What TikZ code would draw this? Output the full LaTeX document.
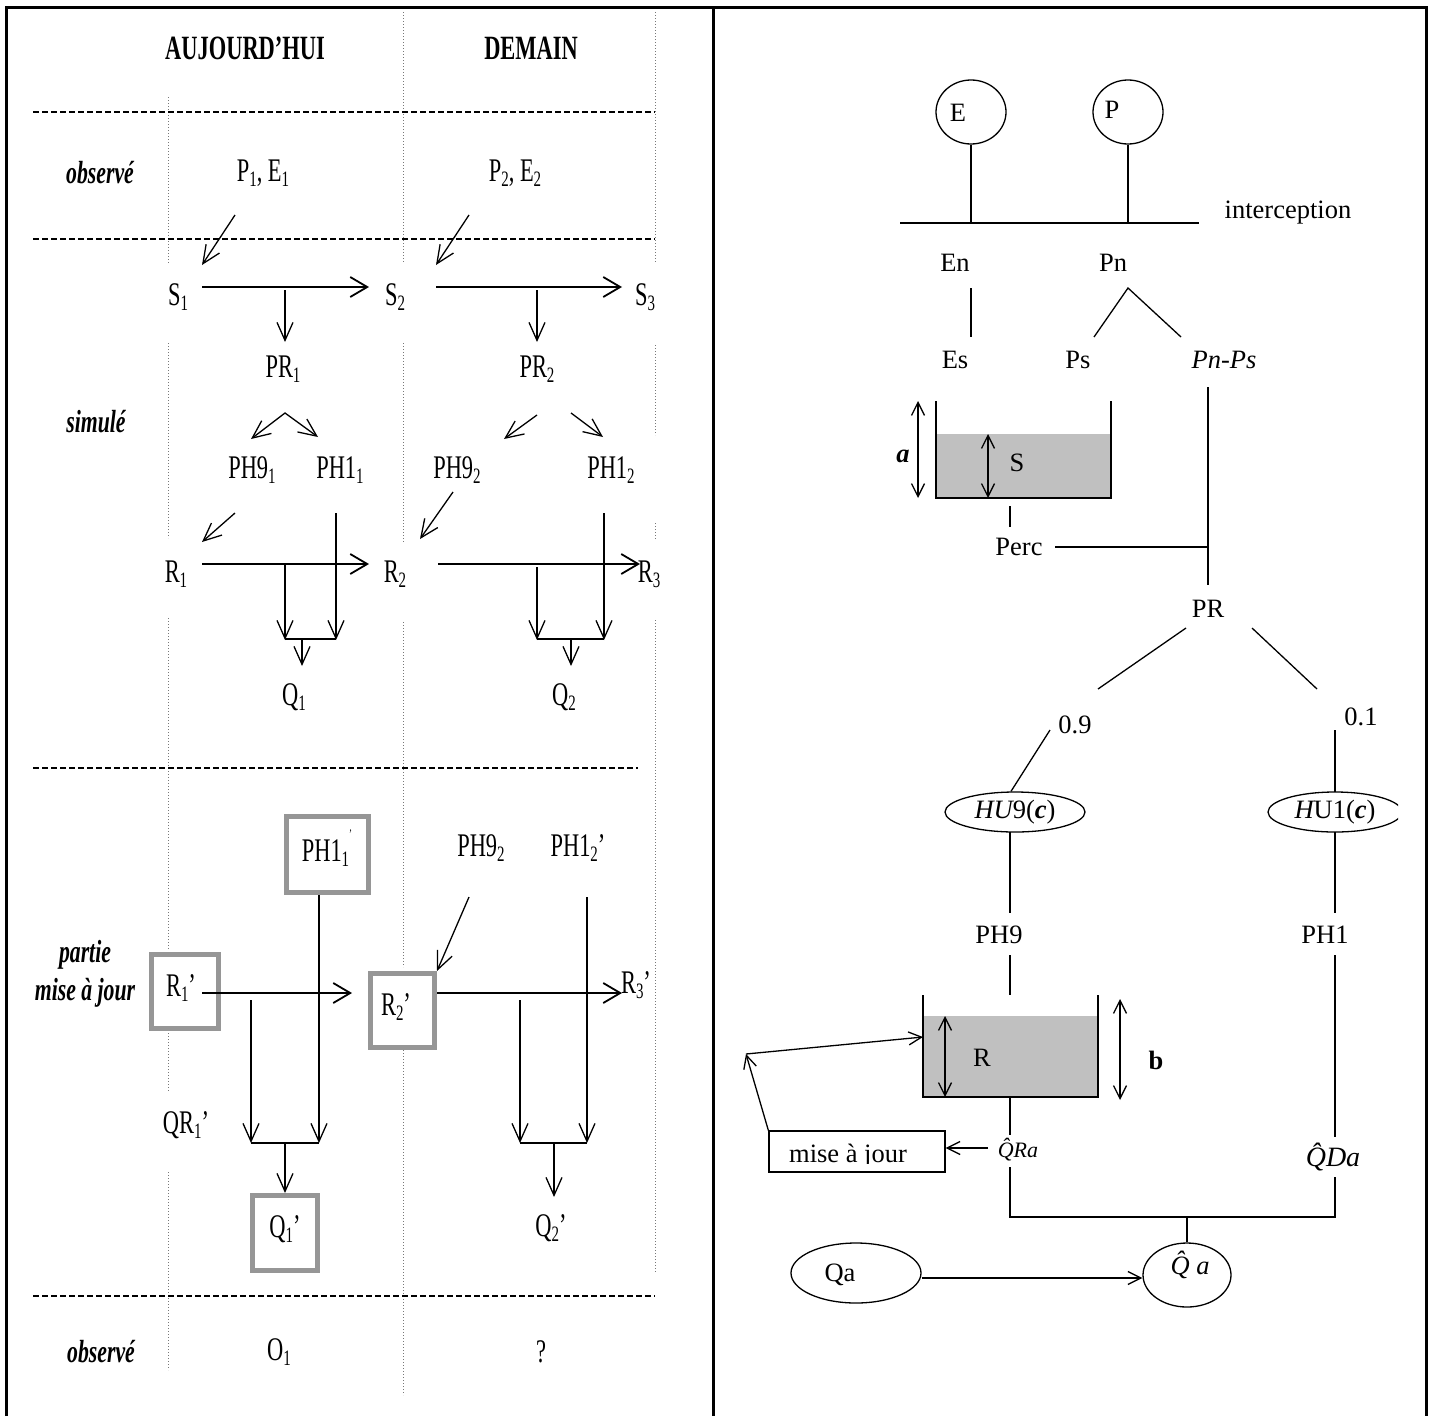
\documentclass[tikz,border=0pt]{standalone}
\usepackage{fontspec}
\setmainfont{Liberation Serif}
\newfontfamily\condfont[FakeStretch=0.68]{Liberation Serif}
\newfontfamily\condhead[FakeStretch=0.66]{Liberation Serif}
\usetikzlibrary{arrows.meta,shapes.geometric}
\definecolor{boxgray}{RGB}{150,150,150}
\definecolor{tankgray}{RGB}{192,192,192}
\definecolor{dotgray}{RGB}{120,120,120}
% lowered index in the condensed font
\newcommand\lsb[1]{\raisebox{-0.35ex}{\fontsize{22}{22}\selectfont #1}}
\newcommand\tinyprime{\raisebox{1.5ex}{\fontsize{13}{13}\selectfont ’}}

\begin{document}
\begin{tikzpicture}[x=1pt,y=-1pt,
  lt/.style={font=\condfont\fontsize{33}{36}\selectfont, inner sep=0pt},
  lhead/.style={font=\condhead\bfseries\fontsize{34}{36}\selectfont, inner sep=0pt},
  rowlab/.style={font=\condfont\bfseries\itshape\fontsize{32}{38}\selectfont, inner sep=0pt, align=center},
  rt/.style={font=\fontsize{26.5}{30}\selectfont, inner sep=0pt},
  conn/.style={line width=1.3pt},
  flow/.style={line width=1.3pt, -{Straight Barb[length=18pt,width=16pt]}},
  mainflow/.style={line width=1.8pt, -{Straight Barb[length=17pt,width=20pt]}},
  sepline/.style={line width=1.4pt, dash pattern=on 6pt off 3pt},
  guide/.style={line width=0.9pt, dotgray, dash pattern=on 1.3pt off 1.7pt},
  gbox/.style={draw=boxgray, line width=5pt, inner sep=0pt},
  frame/.style={line width=3pt},
  rarr/.style={line width=1.3pt, -{Straight Barb[length=13pt,width=13pt]}},
  rdbl/.style={line width=1.3pt, {Straight Barb[length=13pt,width=13pt]}-{Straight Barb[length=13pt,width=13pt]}},
  bubble/.style={draw, line width=1.3pt, ellipse, inner sep=0pt, font=\fontsize{26.5}{30}\selectfont},
]
\useasboundingbox (0,0) rectangle (1434,1416);

% ---------- frame ----------
\draw[frame] (6,1416) -- (6,7) -- (1426,7) -- (1426,1416);
\draw[frame] (713,7) -- (713,1416);

% ================= left panel =================
% column guides
\foreach \a/\b in {97/263, 343/538, 618/950, 1033/1092, 1172/1370}
  \draw[guide] (168,\a) -- (168,\b);
\foreach \a/\b in {12/263, 343/542, 622/967, 1050/1395}
  \draw[guide] (403,\a) -- (403,\b);
\foreach \a/\b in {12/263, 345/435, 523/540, 620/1272}
  \draw[guide] (655,\a) -- (655,\b);
% row separators
\draw[sepline] (33,112) -- (655,112);
\draw[sepline] (33,239) -- (655,239);
\draw[sepline] (33,768) -- (638,768);
\draw[sepline] (33,1296) -- (655,1296);

% headings and row labels
\node[lhead] (hA) at (245,48) {AUJOURD’HUI};
\node[lhead] (hD) at (531,48) {DEMAIN};
\node[rowlab] (obs1) at (100,173) {observé};
\node[rowlab] (sim) at (96,422) {simulé};
\node[rowlab] (maj) at (85,974) {partie\\mise à jour};
\node[rowlab] (obs2) at (101,1352) {observé};

% observed inputs
\node[lt] (PE1) at (263,173) {P\lsb{1}, E\lsb{1}};
\node[lt] (PE2) at (515,173) {P\lsb{2}, E\lsb{2}};

% simulated chain
\node[lt] (S1) at (178,297) {S\lsb{1}};
\node[lt] (S2) at (395,297) {S\lsb{2}};
\node[lt] (S3) at (645,297) {S\lsb{3}};
\node[lt] (PR1) at (283,369) {PR\lsb{1}};
\node[lt] (PR2) at (537,369) {PR\lsb{2}};
\node[lt] (PH91) at (252,470) {PH9\lsb{1}};
\node[lt] (PH11) at (340,470) {PH1\lsb{1}};
\node[lt] (PH92) at (457,470) {PH9\lsb{2}};
\node[lt] (PH12) at (611,470) {PH1\lsb{2}};
\node[lt] (R1) at (176,574) {R\lsb{1}};
\node[lt] (R2) at (395,574) {R\lsb{2}};
\node[lt] (R3) at (649,574) {R\lsb{3}};
\node[lt] (Q1) at (294,697) {Q\lsb{1}};
\node[lt] (Q2) at (564,697) {Q\lsb{2}};

\draw[flow] (235,215) -- (202,265);
\draw[flow] (469,215) -- (436,265);
\draw[mainflow] (202,287) -- (369,287);
\draw[mainflow] (436,287) -- (622,287);
\draw[flow] (285,290) -- (285,342);
\draw[flow] (537,290) -- (537,342);
\draw[line width=1.3pt, {Straight Barb[length=18pt,width=16pt]}-{Straight Barb[length=18pt,width=16pt]}]
  (251,439) -- (285,413) -- (318,437);
\draw[flow] (537,415) -- (504,439);
\draw[flow] (571,413) -- (603,437);
\draw[flow] (235,513) -- (202,542);
\draw[flow] (453,492) -- (420,539);
\draw[mainflow] (202,564) -- (369,564);
\draw[mainflow] (438,564) -- (640,564);
\draw[flow] (285,564) -- (285,640);
\draw[flow] (336,513) -- (336,640);
\draw[conn] (285,639) -- (336,639);
\draw[flow] (302,639) -- (302,666);
\draw[flow] (537,567) -- (537,640);
\draw[flow] (604,513) -- (604,640);
\draw[conn] (537,639) -- (604,639);
\draw[flow] (571,639) -- (571,666);

% updated part
\node[gbox, minimum width=82pt, minimum height=76pt] (PH1b) at (327.5,854.5) {};
\node[lt] (PH1bt) at (327,848) {PH1\lsb{1}\tinyprime};
\node[lt] (PH92b) at (481,848) {PH9\lsb{2}};
\node[lt] (PH12p) at (578,848) {PH1\lsb{2}’};
\node[gbox, minimum width=67pt, minimum height=74pt] (R1b) at (185,991.5) {};
\node[lt] (R1pt) at (181,988) {R\lsb{1}’};
\node[gbox, minimum width=64pt, minimum height=74pt] (R2b) at (402.5,1010.5) {};
\node[lt] (R2pt) at (396,1007) {R\lsb{2}’};
\node[lt] (R3p) at (636,985) {R\lsb{3}’};
\node[lt] (QR1p) at (186,1125) {QR\lsb{1}’};
\node[gbox, minimum width=65pt, minimum height=75pt] (Q1b) at (285,1233) {};
\node[lt] (Q1pt) at (285,1229) {Q\lsb{1}’};
\node[lt] (Q2p) at (551,1228) {Q\lsb{2}’};
\node[lt] (O1) at (279,1352) {O\lsb{1}};
\node[lt] (qm) at (541,1352) {?};

\draw[flow] (PH1b.south -| 319,0) -- (319,1143);
\draw[flow] (251,1000) -- (251,1143);
\draw[conn] (251,1143) -- (319,1143);
\draw[flow] (285,1143) -- (Q1b.north);
\draw[mainflow] (202,993) -- (352,993);
\draw[mainflow] (R2b.east |- 0,993) -- (622,993);
\draw[flow] (469,897) -- (R2b.north east);
\draw[flow] (587,897) -- (587,1143);
\draw[flow] (520,1000) -- (520,1143);
\draw[conn] (520,1143) -- (587,1143);
\draw[flow] (554,1143) -- (554,1197);

% ================= right panel =================
\node[bubble, minimum width=70pt, minimum height=64pt] (E) at (971,112) {};
\node[rt] (Et) at (958,113) {E};
\node[bubble, minimum width=70pt, minimum height=64pt] (P) at (1128,112) {};
\node[rt] (Pt) at (1112,110) {P};
\coordinate (barL) at (900,223);
\coordinate (barR) at (1199,223);
\draw[conn] (barL) -- (barR);
\draw[conn] (E.south) -- (E.south |- barL);
\draw[conn] (P.south) -- (P.south |- barL);
\node[rt] (icp) at (1288,213) {interception};

\node[rt] (En) at (955,263) {En};
\node[rt] (Pn) at (1113,263) {Pn};
\node[rt] (Es) at (955,360) {Es};
\node[rt] (Ps) at (1078,360) {Ps};
\node[rt, font=\itshape\fontsize{26.5}{30}\selectfont] (PnPs) at (1224,360) {Pn-Ps};
\draw[conn] (971,288) -- (971,337);
\draw[conn] (1094,337) -- (1128,288) -- (1181,337);
\draw[conn] (1208,387) -- (1208,585);

% soil store S
\fill[tankgray] (936,434) rectangle (1111,498);
\draw[conn] (936,401) -- (936,498) -- (1111,498) -- (1111,401);
\draw[rdbl] (918,401) -- (918,498);
\draw[rdbl] (988,434) -- (988,498);
\node[rt, font=\bfseries\itshape\fontsize{26.5}{30}\selectfont] (alab) at (903,456) {a};
\node[rt] (Slab) at (1017,463) {S};
\draw[conn] (1010,506) -- (1010,527);
\node[rt] (Perc) at (1019,547) {Perc};
\draw[conn] (1055,547) -- (1208,547);

\node[rt] (PR) at (1208,609) {PR};
\draw[conn] (1186,628) -- (1098,689);
\draw[conn] (1252,628) -- (1317,689);
\node[rt] (p09) at (1075,725) {0.9};
\node[rt] (p01) at (1361,717) {0.1};

\node[bubble, minimum width=140pt, minimum height=40pt] (HU9) at (1015,812)
  {{\itshape HU}9(\textbf{\textit{c}})};
\begin{scope}
  \clip (1250,780) rectangle (1398,845);
  \node[bubble, minimum width=134pt, minimum height=40pt] (HU1) at (1335,812)
    {{\itshape H}U1(\textbf{\textit{c}})};
\end{scope}
\draw[conn] (1050,730) -- (HU9.north -| 1011,0);
\draw[conn] (1335,730) -- (1335,792);

\node[rt] (PH9) at (999,935) {PH9};
\node[rt] (PH1) at (1325,935) {PH1};
\draw[conn] (1010,832) -- (1010,913);
\draw[conn] (1010,955) -- (1010,995);
\draw[conn] (1335,832) -- (1335,913);
\draw[conn] (1335,955) -- (1335,1137);

% routing store R
\fill[tankgray] (923,1016) rectangle (1098,1097);
\draw[conn] (923,995) -- (923,1097) -- (1098,1097) -- (1098,995);
\draw[rdbl] (945,1016) -- (945,1097);
\draw[rdbl] (1120,999) -- (1120,1100);
\node[rt] (Rlab) at (982,1058) {R};
\node[rt, font=\bfseries\fontsize{26.5}{30}\selectfont] (blab) at (1156,1060) {b};

% update loop
\node[draw, line width=1.3pt, minimum width=176pt, minimum height=41pt, inner sep=0pt] (majbox) at (857,1151.5) {};
\begin{scope}
  \clip (769,1131) rectangle (945,1163);
  \node[rt, anchor=base] (majt) at (848,1162) {mise à jour};
\end{scope}
\coordinate (corner) at (746,1054);
\draw[rarr] (majbox.north west) -- (corner);
\draw[rarr] (corner) -- (923,1037);

\node[rt, font=\itshape\fontsize{22}{25}\selectfont] (QRa) at (1018,1150) {\^{Q}Ra};
\draw[rarr] (988,1148) -- (majbox.east |- 0,1148);
\draw[conn] (1010,1097) -- (1010,1135);
\node[rt, font=\itshape\fontsize{28}{31}\selectfont] (QDa) at (1333,1157) {\^{Q}Da};
\draw[conn] (1010,1167) -- (1010,1217) -- (1335,1217) -- (1335,1177);

\node[bubble, minimum width=88pt, minimum height=64pt] (Qh) at (1187,1275) {};
\node[rt, font=\itshape\fontsize{26.5}{30}\selectfont] (Qht) at (1190,1265) {\^{Q} a};
\draw[conn] (1187,1217) -- (Qh.north);
\node[bubble, minimum width=130pt, minimum height=60pt] (Qa) at (856,1273) {};
\node[rt] (Qat) at (840,1275) {Qa};
\draw[rarr] (Qa.east |- 0,1278) -- (Qh.west |- 0,1278);
\end{tikzpicture}
\end{document}
